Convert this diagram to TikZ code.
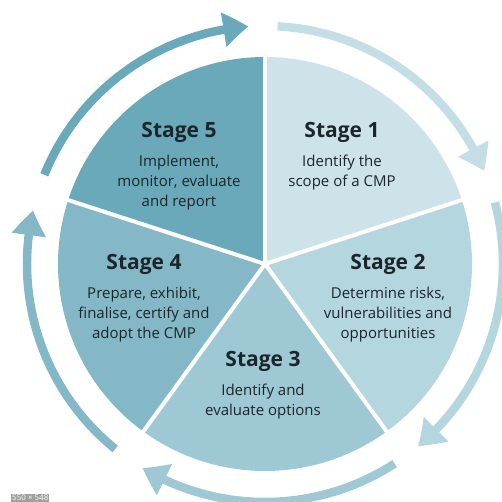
\documentclass[tikz,border=0pt]{standalone}
\usepackage{fontspec}
\setmainfont{Open Sans}
\usetikzlibrary{arrows.meta,bending,positioning}

\definecolor{stageA}{HTML}{CDE3E9}
\definecolor{stageB}{HTML}{B4D6DF}
\definecolor{stageC}{HTML}{9DC8D4}
\definecolor{stageD}{HTML}{85B8C6}
\definecolor{stageE}{HTML}{6AA9BA}
\definecolor{arrowA}{HTML}{C4DEE5}
\definecolor{ink}{HTML}{1B262B}

\begin{document}
\begin{tikzpicture}[
  x = 1pt, y = 1pt,
  stagehead/.style = {font = \fontsize{21}{25}\selectfont\bfseries, text = ink, inner sep = 0pt},
  stagetext/.style = {font = \fontsize{15}{20}\selectfont, text = ink, align = center, inner sep = 0pt},
  cyclearrow/.style = {line width = 8.5pt, -{Triangle[width = 33pt, length = 25pt, bend]}}
  ]
  \useasboundingbox (0,0) rectangle (501,502);
  \coordinate (c) at (265,238);

  % the five stages
  \fill[stageA] (c) -- ++(90:207) arc (90:18:207) -- cycle;
  \fill[stageB] (c) -- ++(18:207) arc (18:-54:207) -- cycle;
  \fill[stageC] (c) -- ++(-54:207) arc (-54:-126:207) -- cycle;
  \fill[stageD] (c) -- ++(-126:207) arc (-126:-198:207) -- cycle;
  \fill[stageE] (c) -- ++(162:207) arc (162:90:207) -- cycle;
  \foreach \a in {90,18,-54,-126,162}
    \draw[white, line width = 4pt] (c) -- ++(\a:210);

  % cycle arrows
  \draw[cyclearrow, arrowA] ([shift = {(87:238)}]c) arc (87:23:238);
  \draw[cyclearrow, stageB] ([shift = {(15:238)}]c) arc (15:-50:238);
  \draw[cyclearrow, stageC] ([shift = {(-57:238)}]c) arc (-57:-121:238);
  \draw[cyclearrow, stageD] ([shift = {(-129:238)}]c) arc (-129:-193:238);
  \draw[cyclearrow, stageE] ([shift = {(158:238)}]c) arc (158:94:238);

  % labels
  \node[stagehead, anchor = base] (s1) at (342,364) {Stage 1};
  \node[stagetext, below = 12pt of s1] (s1text) {Identify the\\scope of a CMP};
  \node[stagehead, anchor = base] (s2) at (388,232) {Stage 2};
  \node[stagetext, below = 12pt of s2] (s2text) {Determine risks,\\vulnerabilities and\\opportunities};
  \node[stagehead, anchor = base] (s3) at (263,135) {Stage 3};
  \node[stagetext, below = 12pt of s3] (s3text) {Identify and\\evaluate options};
  \node[stagehead, anchor = base] (s4) at (144,232) {Stage 4};
  \node[stagetext, below = 12pt of s4] (s4text) {Prepare, exhibit,\\finalise, certify and\\adopt the CMP};
  \node[stagehead, anchor = base] (s5) at (179,364) {Stage 5};
  \node[stagetext, below = 12pt of s5] (s5text) {Implement,\\monitor, evaluate\\and report};

  \node[fill = gray!75, text = white, font = \fontsize{8}{9}\selectfont,
    inner sep = 1pt, anchor = south west] (size) at (11,0) {550 × 548};
\end{tikzpicture}
\end{document}
